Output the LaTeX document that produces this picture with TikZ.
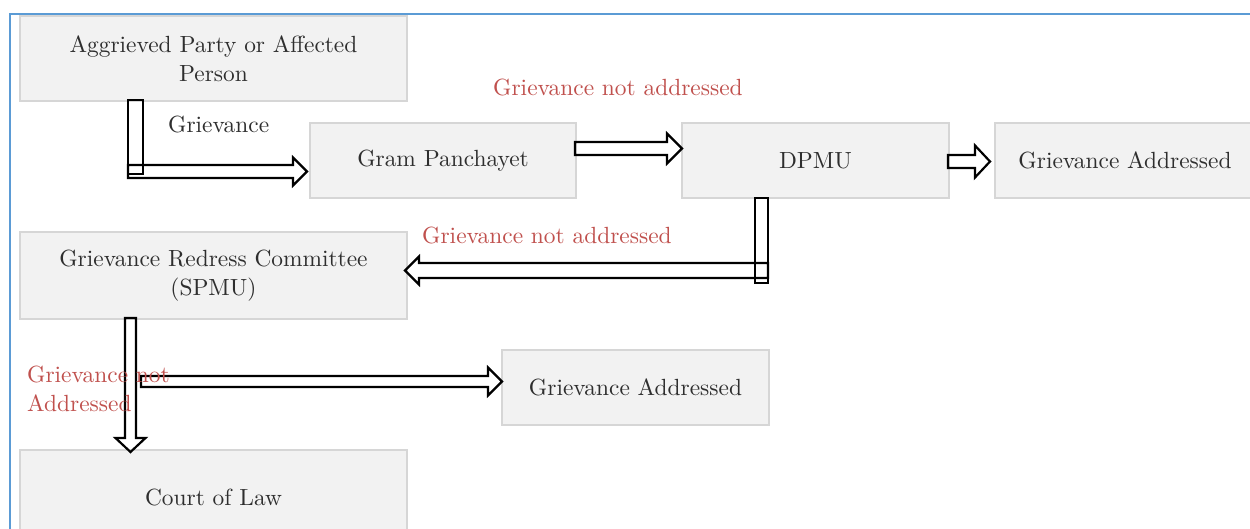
\documentclass[tikz,border=0pt]{standalone}
\usepackage{fontspec}
\setmainfont{lmroman10-regular}[Extension=.otf]
\definecolor{boxfill}{HTML}{F2F2F2}
\definecolor{boxline}{HTML}{D6D6D6}
\definecolor{redtxt}{HTML}{C0504D}
\definecolor{frameblue}{HTML}{5B9BD5}
\definecolor{txt}{HTML}{2E2E2E}
% horizontal block arrow: start x, head-base x, tip x, centre y, shaft half, head half
\newcommand\harrowpath[6]{(#1,#4-#5) -- (#2,#4-#5) -- (#2,#4-#6) -- (#3,#4) -- (#2,#4+#6) -- (#2,#4+#5) -- (#1,#4+#5) -- cycle}
% vertical block arrow: centre x, start y, head-base y, tip y, shaft half, head half
\newcommand\varrowpath[6]{(#1-#5,#2) -- (#1-#5,#3) -- (#1-#6,#3) -- (#1,#4) -- (#1+#6,#3) -- (#1+#5,#3) -- (#1+#5,#2) -- cycle}
\begin{document}
\begin{tikzpicture}[x=1pt,y=-1pt,
  box/.style={draw=boxline, line width=1.2pt, fill=boxfill, rectangle, inner sep=0pt,
    align=center, text=txt, font=\fontsize{23.4}{29}\selectfont},
  lbl/.style={inner sep=0pt, anchor=base west, text=txt, font=\fontsize{23.4}{29}\selectfont},
  redlbl/.style={lbl, text=redtxt, align=left},
  blk/.style={draw=black, line width=2.2pt, line join=miter}]
\useasboundingbox (0,0) rectangle (1250,528);
\clip (0,0) rectangle (1250,528);
\fill[white] (0,0) rectangle (1250,528);
\draw[frameblue, line width=2pt] (10,532) -- (10,14) -- (1254,14);

% boxes
\node[box, minimum width=387pt, minimum height=85pt] (ap) at (213.5,58.5) {Aggrieved Party or Affected\\Person};
\node[box, minimum width=266pt, minimum height=75pt] (gp) at (443,160.5) {Gram Panchayet};
\node[box, minimum width=267pt, minimum height=75pt] (dp) at (815.5,160.5) {DPMU};
\node[box, minimum width=260pt, minimum height=75pt] (ga1) at (1125,160.5) {Grievance Addressed};
\node[box, minimum width=387pt, minimum height=87pt] (grc) at (213.5,275.5) {Grievance Redress Committee\\(SPMU)};
\node[box, minimum width=267pt, minimum height=75pt] (ga2) at (635.5,387.5) {Grievance Addressed};
\node[box, minimum width=387pt, minimum height=95pt] (col) at (213.5,497.5) {Court of Law};

% arrows
\draw[blk] (128,100) rectangle (143,174);
\draw[blk] \harrowpath{128}{293}{307}{171.5}{6.5}{14};
\draw[blk] \harrowpath{575}{667}{682}{148.5}{6.5}{15};
\draw[blk] \harrowpath{948}{975}{990}{161.5}{6.5}{16};
\draw[blk] (755,198) rectangle (768,283);
\draw[blk] \harrowpath{768}{419}{405}{270.5}{7.5}{14};
\draw[blk] \varrowpath{130.5}{318}{438}{452}{5.5}{15};
\draw[blk] \harrowpath{141}{488}{502}{381.5}{5.5}{14};

% labels
\node[lbl] (lg) at (168,132) {Grievance};
\node[redlbl] (r1) at (493,95) {Grievance not addressed};
\node[redlbl] (r2) at (422,243) {Grievance not addressed};
\node[redlbl] (r3) at (27,411) {Grievance not\\Addressed};
\end{tikzpicture}
\end{document}
